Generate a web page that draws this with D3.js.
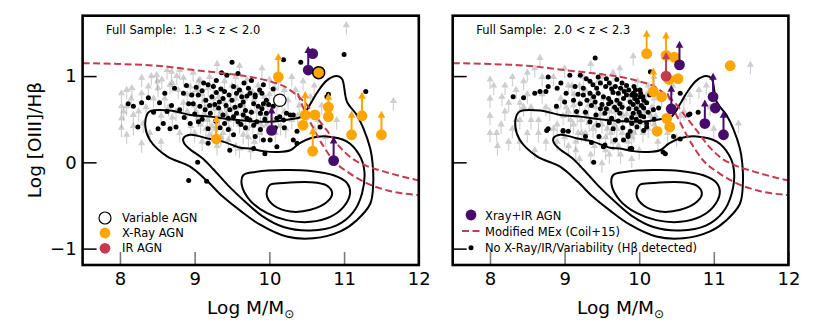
<!DOCTYPE html>
<html><head><meta charset="utf-8">
<script src="https://cdn.jsdelivr.net/npm/d3@7"></script>
<style>body{margin:0;background:#fff}svg text{font-family:"DejaVu Sans",sans-serif;fill:#000}</style>
</head><body><svg id="c" width="830" height="332"></svg>
<script>
// ---------- data ----------
const xTicks = [8, 9, 10, 11, 12];
const yTicks = [-1, 0, 1];
const panelTitles = ["Full Sample:  1.3 < z < 2.0", "Full Sample:  2.0 < z < 2.3"];
const xLabel = "Log M/M";
const yLabel = "Log [OIII]/H\u03B2";
const legendLeft = ["Variable AGN", "X-Ray AGN", "IR AGN"];
const legendRight = ["Xray+IR AGN", "Modified MEx (Coil+15)", "No X-Ray/IR/Variability (H\u03B2 detected)"];

const mexUpper = [[7.5,1.15],[8.0,1.14],[8.5,1.12],[9.0,1.07],[9.5,1.02],[9.75,0.99],[10.0,0.94],[10.2,0.88],[10.32,0.81],[10.42,0.74],[10.5,0.67],[10.58,0.58],[10.68,0.47],[10.77,0.37],[10.94,0.18],[11.1,0.05],[11.3,-0.04],[11.55,-0.11],[11.8,-0.17],[12.0,-0.21]];
const mexLower = [[10.38,0.80],[10.45,0.64],[10.58,0.41],[10.7,0.22],[10.85,0.03],[11.08,-0.13],[11.3,-0.24],[11.6,-0.33],[12.0,-0.38]];

const contourOuter = [[8.40,0.59],[8.67,0.60],[8.94,0.55],[9.21,0.53],[9.47,0.50],[9.74,0.48],[10.01,0.47],[10.28,0.50],[10.43,0.53],[10.55,0.68],[10.64,0.81],[10.77,0.95],[10.90,1.00],[10.97,0.97],[11.04,0.70],[11.17,0.55],[11.26,0.39],[11.35,0.16],[11.38,0.0],[11.39,-0.24],[11.35,-0.48],[11.17,-0.67],[10.95,-0.80],[10.59,-0.88],[10.23,-0.86],[9.87,-0.72],[9.61,-0.56],[9.38,-0.40],[9.17,-0.22],[8.94,-0.05],[8.63,0.07],[8.40,0.26],[8.34,0.41],[8.36,0.55]];
const contourSecond = [[8.85,0.28],[8.94,0.32],[9.16,0.28],[9.38,0.24],[9.61,0.17],[9.74,0.16],[9.92,0.13],[10.10,0.12],[10.28,0.14],[10.40,0.22],[10.55,0.28],[10.77,0.30],[11.04,0.24],[11.20,0.09],[11.27,-0.09],[11.24,-0.36],[11.12,-0.58],[10.90,-0.73],[10.55,-0.79],[10.19,-0.75],[9.90,-0.62],[9.68,-0.46],[9.45,-0.27],[9.25,-0.08],[9.10,0.05],[8.94,0.15],[8.86,0.22]];
const contourThird = [[9.65,-0.15],[9.83,-0.11],[10.19,-0.09],[10.55,-0.10],[10.86,-0.15],[11.04,-0.24],[11.08,-0.36],[10.99,-0.52],[10.82,-0.63],[10.55,-0.69],[10.23,-0.67],[9.97,-0.59],[9.74,-0.44],[9.63,-0.26]];
const contourInner = [[9.97,-0.32],[10.01,-0.26],[10.19,-0.24],[10.55,-0.23],[10.77,-0.27],[10.84,-0.36],[10.77,-0.46],[10.55,-0.55],[10.28,-0.57],[10.06,-0.50],[9.97,-0.40]];

// Hbeta non-detections (lower limits)
const leftLimits = [[8.02,0.76],[8.02,0.61],[8.02,0.47],[8.02,0.36],[8.09,0.80],[8.09,0.61],[8.09,0.28],[8.16,0.82],[8.18,0.51],[8.18,0.38],[8.29,0.94],[8.29,0.76],[8.29,0.18],[8.31,0.41],[8.38,0.84],[8.42,0.96],[8.49,0.97],[8.51,0.82],[8.56,0.92],[8.63,1.03],[8.67,0.86],[8.69,1.01],[8.76,0.96],[8.78,0.80],[8.80,1.03],[8.85,0.94],[8.94,0.84],[8.98,1.00],[9.03,0.80],[9.07,0.92],[9.1,0.75],[9.15,0.6],[9.2,0.5],[9.25,0.7],[9.3,0.42],[9.35,0.55],[9.4,0.66],[9.45,0.45],[9.5,0.58],[9.55,0.7],[9.6,0.4],[9.65,0.62],[9.7,0.35],[9.75,0.55],[9.8,0.68],[9.85,0.42],[9.9,0.6],[9.95,0.5],[10.0,0.75],[10.05,0.45],[10.1,0.62],[10.15,0.38],[10.2,0.8],[10.25,0.68],[10.3,0.45],[10.4,0.62],[10.45,0.9],[10.55,0.72],[10.6,0.85],[10.7,0.62],[8.9,0.55],[8.95,0.38],[9.0,0.3],[9.1,0.2],[9.2,0.28],[9.3,0.15],[9.45,0.22],[9.6,0.12],[9.8,0.2],[8.7,0.48],[8.8,0.3],[8.6,0.7],[9.0,0.62],[9.05,0.48],[9.25,0.85],[9.4,0.9],[9.55,0.95],[9.7,0.92],[9.85,0.85],[10.0,0.92],[10.3,0.95],[10.5,0.5],[10.65,0.45],[10.75,0.25],[10.9,0.45],[11.03,1.55],[11.66,0.67],[9.9,1.05],[9.6,1.08],[9.3,1.1],[9.12,0.52],[9.22,0.62],[9.32,0.72],[9.42,0.52],[9.48,0.68],[9.58,0.6],[9.68,0.48],[9.78,0.38],[9.88,0.52],[9.98,0.62],[9.28,0.35],[9.38,0.3],[9.62,0.78],[9.18,0.82],[8.98,0.75],[8.85,0.65],[9.72,0.25],[10.08,0.3],[10.2,0.55],[10.35,0.8],
  [9.02,0.55],[9.08,0.4],[9.13,0.68],[9.17,0.45],[9.23,0.38],[9.27,0.58],[9.33,0.5],[9.37,0.8],[9.43,0.6],[9.47,0.35],[9.52,0.48],[9.57,0.82],[9.63,0.52],[9.67,0.7],[9.73,0.45],[9.77,0.78],[9.83,0.55],[9.87,0.3],[9.93,0.72],[9.97,0.4],[10.02,0.55],[10.07,0.82],[10.12,0.48],[10.17,0.68],[10.22,0.35],[9.05,0.9],[9.15,0.35],[9.35,0.25],[9.55,0.15],[9.75,0.1],[8.75,0.55],[8.65,0.6],[8.55,0.5],[8.45,0.7],[8.35,0.6],[8.25,0.55],[8.15,0.7],[8.05,0.55],[8.9,0.75],[8.7,0.88],[8.5,0.9],[8.4,0.3],[8.55,0.2],[9.5,0.85],[9.65,0.28],[9.9,0.38],[10.12,0.9],[10.38,0.5],[10.6,0.35],[9.2,0.95]];
const rightLimits = [[8.0,0.92],[8.0,0.70],[8.0,0.50],[8.0,0.30],[8.09,0.30],[8.16,0.72],[8.2,0.55],[8.25,0.2],[8.3,0.95],[8.35,0.45],[8.4,0.65],[8.45,0.9],[8.5,0.3],[8.55,0.6],[8.6,1.05],[8.65,0.45],[8.67,1.17],[8.7,0.75],[8.75,0.2],[8.8,0.55],[8.85,0.95],[8.9,0.4],[8.95,0.7],[9.0,1.05],[9.0,0.25],[9.05,0.55],[9.1,0.85],[9.12,0.4],[9.15,0.1],[9.2,0.65],[9.25,0.95],[9.28,0.3],[9.3,0.5],[9.35,0.75],[9.4,0.15],[9.42,0.6],[9.45,0.9],[9.5,0.4],[9.52,0.7],[9.55,0.25],[9.6,0.55],[9.62,0.85],[9.65,1.0],[9.7,0.35],[9.72,0.65],[9.74,1.05],[9.78,0.5],[9.8,0.8],[9.85,0.2],[9.88,0.6],[9.92,1.19],[9.95,0.4],[9.98,0.9],[10.0,0.6],[10.05,0.3],[10.1,0.75],[10.15,0.5],[10.2,0.95],[10.25,0.2],[10.3,0.7],[10.35,0.45],[10.45,0.85],[10.5,0.25],[10.6,0.55],[10.68,0.74],[10.8,0.8],[10.9,0.85],[10.95,0.6],[11.0,0.35],[11.33,0.41],[11.49,1.09],[9.2,0.0],[9.5,-0.05],[8.6,0.1],[9.35,1.1],[9.9,0.0],[9.12,0.62],[9.22,0.45],[9.32,0.62],[9.42,0.4],[9.48,0.52],[9.58,0.45],[9.68,0.55],[9.78,0.62],[9.88,0.45],[9.98,0.52],[9.28,0.8],[9.38,0.35],[9.62,0.3],[9.18,0.3],[8.98,0.5],[8.85,0.35],[9.72,0.15],[10.08,0.55],[10.2,0.4],[10.4,0.6],[8.4,0.45],[8.5,0.75],[8.9,0.2],[9.05,0.15],[9.6,0.05],[10.0,0.1],[8.2,0.85],[8.3,0.35],[10.2,0.7],[10.55,0.5],
  [9.02,0.6],[9.08,0.45],[9.13,0.75],[9.17,0.5],[9.23,0.3],[9.27,0.55],[9.33,0.42],[9.37,0.7],[9.43,0.5],[9.47,0.25],[9.52,0.6],[9.57,0.35],[9.63,0.65],[9.67,0.4],[9.73,0.75],[9.77,0.3],[9.83,0.52],[9.87,0.68],[9.93,0.3],[9.97,0.6],[10.02,0.42],[10.07,0.65],[10.12,0.35],[10.17,0.6],[10.22,0.5],[9.05,0.85],[9.15,0.2],[9.35,0.05],[9.55,0.1],[9.75,0.05],[8.75,0.6],[8.65,0.3],[8.55,0.45],[8.45,0.6],[8.35,0.8],[8.25,0.65],[8.15,0.4],[8.05,0.85],[8.9,0.6],[8.7,0.95],[8.5,1.0],[8.4,0.2],[8.1,0.15],[9.5,0.95],[9.65,0.2],[9.9,0.25],[10.12,0.85],[10.38,0.3],[10.6,0.7],[9.2,0.85]];

// H-beta detected, no AGN signature
const leftDetected = [[9.50,1.16],[8.73,0.86],[8.89,0.89],[9.02,0.87],[9.12,0.92],[9.18,0.90],[9.29,0.95],[9.43,1.01],[9.29,0.81],[9.23,0.76],[9.35,0.85],[9.38,0.74],[9.46,0.78],[9.52,0.88],[9.56,0.80],[9.63,0.76],[9.65,0.70],[9.70,0.77],[9.74,0.80],[9.79,0.68],[9.81,0.76],[9.85,0.65],[8.11,0.68],[8.18,0.65],[8.29,0.69],[8.38,0.75],[8.53,0.69],[8.69,0.66],[8.80,0.61],[8.63,0.59],[8.58,0.45],[8.51,0.39],[8.67,0.39],[8.75,0.41],[8.24,0.41],[8.92,0.68],[8.98,0.68],[9.07,0.65],[9.14,0.61],[9.21,0.57],[9.27,0.67],[9.32,0.63],[9.38,0.55],[9.45,0.51],[9.47,0.61],[9.52,0.53],[9.56,0.57],[9.58,0.47],[9.65,0.55],[9.70,0.51],[9.74,0.49],[9.83,0.47],[9.45,0.38],[9.52,0.32],[9.18,0.39],[9.18,0.22],[9.05,0.47],[8.94,0.45],[9.04,0.00],[9.47,0.14],[9.81,0.30],[9.88,0.57],[9.88,0.38],[8.92,-0.21],[9.16,-0.22],[10.19,1.19],[10.42,1.16],[11.00,1.25],[11.29,0.82],[10.79,0.79],[10.68,0.41],[10.32,0.26],[10.14,0.53],[10.23,0.57],[9.96,0.72],[9.90,0.80],[9.96,0.57],[10.10,0.51],[10.19,0.49],[10.28,0.55],[10.01,0.26],[10.10,0.18],[9.94,0.10],[10.37,0.22],[9.76,0.95],[9.87,0.84],[9.81,0.78],[9.92,0.68],[9.99,0.67],[10.05,0.65],[10.14,0.70],[10.32,0.55],[9.79,0.43],[9.92,0.26],[9.79,0.16],[10.37,0.36],[10.77,0.76],
  [9.05,0.78],[9.10,0.83],[9.15,0.72],[9.20,0.66],[9.25,0.88],[9.33,0.70],[9.40,0.82],[9.42,0.66],[9.50,0.72],[9.54,0.64],[9.60,0.84],[9.61,0.66],[9.68,0.60],[9.72,0.86],[9.76,0.58],[9.90,0.62],[9.94,0.50],[8.85,0.80],[8.96,0.78],[9.00,0.56],[9.10,0.50],[9.28,0.48],[9.34,0.40],[9.40,0.45],[9.62,0.44],[9.68,0.40],[8.60,0.80],[8.45,0.58],[8.86,0.52],[9.58,1.03],[9.36,1.04],[9.66,0.92],[9.92,0.90],[10.05,0.85],[10.08,0.40],[10.20,0.40]];
const rightDetected = [[9.41,1.21],[8.78,0.99],[9.07,1.01],[9.21,1.01],[9.29,0.97],[9.34,0.94],[9.45,0.99],[9.56,0.97],[9.70,0.96],[9.77,0.92],[9.83,0.89],[9.93,0.88],[8.78,0.88],[8.75,0.82],[8.67,0.82],[8.60,0.80],[8.90,0.86],[8.31,0.76],[8.45,0.75],[8.89,0.65],[9.14,0.88],[9.18,0.79],[9.25,0.86],[9.34,0.80],[9.39,0.76],[9.41,0.70],[9.45,0.80],[9.52,0.76],[9.59,0.74],[9.65,0.81],[9.70,0.72],[9.74,0.68],[9.79,0.74],[9.83,0.78],[9.88,0.70],[9.92,0.67],[9.97,0.72],[10.01,0.76],[10.06,0.63],[10.10,0.69],[9.59,0.68],[9.50,0.67],[9.30,0.72],[9.21,0.68],[9.16,0.59],[9.34,0.47],[9.45,0.43],[9.54,0.57],[9.63,0.51],[9.65,0.39],[9.74,0.57],[9.83,0.49],[9.90,0.45],[9.79,0.26],[9.85,0.32],[9.54,0.20],[8.76,0.37],[8.98,0.37],[9.05,0.36],[9.70,0.61],[9.92,0.57],[10.06,0.53],[10.10,0.41],[9.90,0.16],[10.15,1.05],[10.01,0.84],[9.92,0.80],[10.06,0.72],[10.19,0.61],[10.26,0.63],[10.01,0.47],[10.10,0.45],[9.97,0.41],[9.88,0.36],[9.85,0.30],[9.88,0.16],[10.06,0.37],[10.46,0.30],[10.66,0.55],[10.35,0.10],[9.68,0.26],[9.52,0.18],[9.36,0.23],[8.98,0.36],[8.78,0.39],[10.55,0.80],[10.68,0.56],[10.79,0.58],[10.55,0.27],[10.32,0.12],[9.39,0.00],[9.95,0.78],[9.98,0.70],[10.03,0.66],[9.96,0.62],[10.0,0.58],[9.94,0.74],
  [9.38,0.90],[9.43,0.86],[9.48,0.92],[9.55,0.88],[9.60,0.92],[9.63,0.85],[9.68,0.88],[9.72,0.80],[9.75,0.86],[9.80,0.82],[9.86,0.84],[9.90,0.78],[9.95,0.84],[10.02,0.80],[10.05,0.76],[9.36,0.66],[9.48,0.62],[9.56,0.62],[9.62,0.70],[9.67,0.64],[9.77,0.64],[9.86,0.62],[9.90,0.52],[9.96,0.50],[10.02,0.54],[9.25,0.78],[9.12,0.72],[9.02,0.80],[8.95,0.92],[9.00,0.70],[9.28,0.58],[9.42,0.55],[9.60,0.46],[9.72,0.48],[9.78,0.40],[9.46,0.30],[9.28,0.30],[10.12,0.58],[10.14,0.78],[10.20,0.50]];

// AGN: [logM, logOIII/Hb, lowerLimit(1/0)]
const leftXray = [[10.12,0.99,1],[10.48,0.55,1],[10.61,0.55,0],[10.45,0.43,0],[10.79,0.64,0],[10.79,0.53,1],[11.10,0.32,1],[11.24,0.54,1],[11.50,0.32,1],[10.58,0.13,1],[9.29,0.27,1]];
const leftXrayVariable = [[10.66,1.04,0]];
const leftVariable = [[10.14,0.72,0]];
const leftXrayIR = [[10.52,1.07,1],[10.58,1.26,0],[10.03,0.37,1],[10.86,0.02,1]];
const leftIR = [];
const rightXray = [[10.10,1.26,1],[10.36,1.24,1],[10.47,1.22,0],[10.52,0.97,0],[10.40,0.96,0],[10.19,0.82,1],[10.30,0.76,0],[10.37,0.51,0],[10.41,0.41,0],[10.24,0.36,0],[11.22,1.12,0]];
const rightIR = [[10.36,1.00,1]];
const rightXrayIR = [[10.54,1.13,1],[10.43,0.62,1],[10.99,0.76,1],[11.02,0.63,0],[10.88,0.45,1],[11.13,0.32,1]];

// ---------- drawing ----------
const C = {orange:"#ffa500", purple:"#470c6b", red:"#c33b4f"};
const svg = d3.select("#c");
const yTop = 15.7, yBot = 265;
const y = d3.scaleLinear().domain([-1.19, 1.70]).range([yBot, yTop]);
const panels = [
  {x0:82.6, x1:418.8, title:panelTitles[0], limits:leftLimits, det:leftDetected,
   groups:[[leftXray,C.orange,null],[leftIR,C.red,null],[leftXrayIR,C.purple,null],[leftXrayVariable,C.orange,"#000"]], variable:leftVariable, yLabels:true},
  {x0:452.7, x1:788.4, title:panelTitles[1], limits:rightLimits, det:rightDetected,
   groups:[[rightXray,C.orange,null],[rightIR,C.red,null],[rightXrayIR,C.purple,null]], variable:[], yLabels:false}
];

panels.forEach((P, i) => {
  const x = d3.scaleLinear().domain([7.5, 12]).range([P.x0, P.x1]);
  const g = svg.append("g");
  const cid = "clip" + i;
  svg.append("clipPath").attr("id", cid).append("rect")
    .attr("x", P.x0).attr("y", yTop).attr("width", P.x1 - P.x0).attr("height", yBot - yTop);
  const plot = g.append("g").attr("clip-path", `url(#${cid})`);

  // gray upward arrows (H-beta non-detections)
  plot.append("g").selectAll("path").data(P.limits).join("path")
    .attr("d", d => {
      const px = x(d[0]), py = y(d[1]);
      return `M${px},${py+6}L${px},${py-3}M${px-2.6},${py-2}L${px},${py-6.5}L${px+2.6},${py-2}Z`;
    })
    .attr("stroke", "#8c8c8c").attr("stroke-width", 1.1).attr("fill", "#8c8c8c")
    .attr("opacity", 0.42);

  // contours
  const cl = d3.line().x(d => x(d[0])).y(d => y(d[1])).curve(d3.curveCatmullRomClosed.alpha(0.5));
  [contourOuter, contourSecond, contourThird, contourInner].forEach(c => {
    plot.append("path").attr("d", cl(c)).attr("fill", "none").attr("stroke", "#000").attr("stroke-width", 2);
  });

  // detected galaxies
  plot.append("g").selectAll("circle").data(P.det).join("circle")
    .attr("cx", d => x(d[0])).attr("cy", d => y(d[1])).attr("r", 2.5).attr("fill", "#000");

  // MEx lines
  const ml = d3.line().x(d => x(d[0])).y(d => y(d[1])).curve(d3.curveMonotoneX);
  [mexUpper, mexLower].forEach(m => {
    plot.append("path").attr("d", ml(m)).attr("fill", "none").attr("stroke", C.red)
      .attr("stroke-width", 2).attr("stroke-dasharray", "7,3.5");
  });

  // variable open circles
  plot.append("g").selectAll("circle").data(P.variable).join("circle")
    .attr("cx", d => x(d[0])).attr("cy", d => y(d[1])).attr("r", 6.2)
    .attr("fill", "#fff").attr("stroke", "#000").attr("stroke-width", 1.2);

  // AGN groups
  P.groups.forEach(([data, col, edge]) => {
    const ag = plot.append("g");
    const lim = data.filter(d => d[2] === 1);
    ag.selectAll("line").data(lim).join("line")
      .attr("x1", d => x(d[0])).attr("x2", d => x(d[0]))
      .attr("y1", d => y(d[1])).attr("y2", d => y(d[1]) - 18)
      .attr("stroke", col).attr("stroke-width", 2);
    ag.selectAll("path").data(lim).join("path")
      .attr("d", d => { const px = x(d[0]), py = y(d[1]); return `M${px},${py-24}L${px-3.8},${py-17}L${px+3.8},${py-17}Z`; })
      .attr("fill", col);
    ag.selectAll("circle").data(data).join("circle")
      .attr("cx", d => x(d[0])).attr("cy", d => y(d[1])).attr("r", edge ? 6 : 5.4)
      .attr("fill", col).attr("stroke", edge || "none").attr("stroke-width", edge ? 1.5 : 0);
  });

  // axes
  const xa = g.append("g").attr("transform", `translate(0,${yBot})`)
    .call(d3.axisBottom(x).tickValues(xTicks).tickSize(-13).tickPadding(7).tickFormat(d3.format("d")));
  xa.select(".domain").remove();
  xa.selectAll(".tick line").attr("stroke", "#7a7a7a").attr("stroke-width", 1.6);
  xa.selectAll(".tick text").attr("font-size", 18).attr("font-family", "DejaVu Sans").attr("fill", "#000");
  const ya = g.append("g").attr("transform", `translate(${P.x0},0)`)
    .call(d3.axisLeft(y).tickValues(yTicks).tickSize(-14).tickPadding(6).tickFormat(P.yLabels ? d3.format("d") : () => ""));
  ya.select(".domain").remove();
  ya.selectAll(".tick line").attr("stroke", "#000").attr("stroke-width", 1.5);
  ya.selectAll(".tick text").attr("font-size", 18).attr("font-family", "DejaVu Sans").attr("fill", "#000");

  // frame
  g.append("rect").attr("x", P.x0).attr("y", yTop).attr("width", P.x1 - P.x0).attr("height", yBot - yTop)
    .attr("fill", "none").attr("stroke", "#000").attr("stroke-width", 2.6);

  // title
  g.append("text").attr("x", P.x0 + 23.5).attr("y", 34).attr("font-size", 11.5)
    .style("white-space", "pre").text(P.title);

  // x label
  const xl = g.append("text").attr("x", (P.x0 + P.x1) / 2).attr("y", 314).attr("text-anchor", "middle").attr("font-size", 18.5);
  xl.append("tspan").text(xLabel);
  xl.append("tspan").attr("font-size", 12).attr("dy", 4).text("\u2299");
});

// y label
svg.append("text").attr("transform", "translate(34,140) rotate(-90)").attr("text-anchor", "middle")
  .attr("dominant-baseline", "central").attr("font-size", 18.5).text(yLabel);

// legends
const L = svg.append("g");
L.append("circle").attr("cx", 105).attr("cy", 218).attr("r", 6).attr("fill", "#fff").attr("stroke", "#000").attr("stroke-width", 1.2);
L.append("circle").attr("cx", 105).attr("cy", 233).attr("r", 5.4).attr("fill", C.orange);
L.append("circle").attr("cx", 105).attr("cy", 248.3).attr("r", 5.4).attr("fill", C.red);
legendLeft.forEach((t, k) => L.append("text").attr("x", 122).attr("y", 222 + k * 15.2).attr("font-size", 11.5).text(t));

L.append("circle").attr("cx", 471).attr("cy", 215).attr("r", 5.4).attr("fill", C.purple);
L.append("line").attr("x1", 462).attr("x2", 481).attr("y1", 231).attr("y2", 231).attr("stroke", C.red).attr("stroke-width", 2).attr("stroke-dasharray", "7,3.5");
L.append("circle").attr("cx", 471).attr("cy", 247.7).attr("r", 2.5).attr("fill", "#000");
legendRight.forEach((t, k) => L.append("text").attr("x", 485).attr("y", 219.5 + k * 16.3).attr("font-size", 11.5).text(t));
</script></body></html>
